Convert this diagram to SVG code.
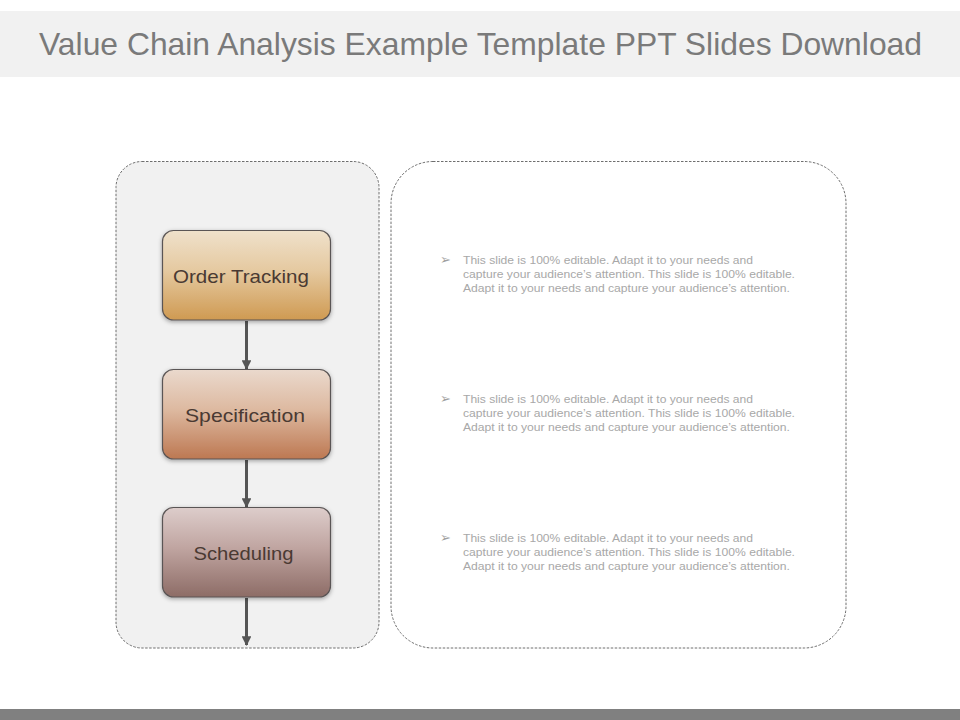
<svg xmlns="http://www.w3.org/2000/svg" width="960" height="720" viewBox="0 0 960 720">
<style>
.title{font-family:"Liberation Sans",Arial,sans-serif;font-size:32px;fill:#7a7a7a}
.node{stroke:#5a5555;stroke-width:1.2}
.lbl{font-family:"Liberation Sans",Arial,sans-serif;font-size:19px;fill:#4a3a33;text-anchor:start}
.body{font-family:"Liberation Sans",Arial,sans-serif;font-size:11.5px;fill:#a8a8a8}
.bullet{font-family:"DejaVu Sans",sans-serif;font-size:13px;fill:#a0a0a0}
.panel{stroke:#6e6e6e;stroke-width:1;stroke-dasharray:2.5 1.5}
.conn{stroke:#555;stroke-width:3;fill:none}
</style>
<defs>
<linearGradient id="g1" x1="0" y1="0" x2="0" y2="1">
<stop offset="0" stop-color="#efe1cb"/><stop offset="0.45" stop-color="#e5c9a0"/><stop offset="1" stop-color="#cf9a52"/>
</linearGradient>
<linearGradient id="g2" x1="0" y1="0" x2="0" y2="1">
<stop offset="0" stop-color="#ead9cd"/><stop offset="0.45" stop-color="#ddb9a0"/><stop offset="1" stop-color="#bd7852"/>
</linearGradient>
<linearGradient id="g3" x1="0" y1="0" x2="0" y2="1">
<stop offset="0" stop-color="#ddcdcb"/><stop offset="0.45" stop-color="#c0a5a1"/><stop offset="1" stop-color="#8d6c66"/>
</linearGradient>
<filter id="sh" x="-10%" y="-10%" width="120%" height="130%">
<feDropShadow dx="0" dy="1.5" stdDeviation="2" flood-color="#000" flood-opacity="0.35"/>
</filter>
<marker id="ah" viewBox="0 0 10 10" refX="9" refY="5" markerWidth="3.2" markerHeight="3.2" orient="auto" markerUnits="strokeWidth">
<path d="M0,0 L10,5 L0,10 z" fill="#555"/>
</marker>
</defs>
<rect x="0" y="0" width="960" height="720" fill="#ffffff"/>
<g id="header">
<rect x="0" y="11" width="960" height="66" fill="#f1f1f1"/>
<text class="title" x="39" y="55" textLength="883" lengthAdjust="spacingAndGlyphs">Value Chain Analysis Example Template PPT Slides Download</text>
</g>
<rect x="0" y="709" width="960" height="11" fill="#808080"/>
<g id="left-panel">
<rect class="panel" x="116" y="161.5" width="263" height="486.5" rx="26" ry="26" fill="#f1f1f1"/>
</g>
<g id="right-panel">
<rect class="panel" x="391" y="161.5" width="455" height="486.5" rx="42" ry="42" fill="#ffffff"/>
</g>
<g id="connectors">
<line class="conn" x1="246.5" y1="321" x2="246.5" y2="369" marker-end="url(#ah)"/>
<line class="conn" x1="246.5" y1="460" x2="246.5" y2="507" marker-end="url(#ah)"/>
<line class="conn" x1="246.5" y1="598" x2="246.5" y2="645" marker-end="url(#ah)"/>
</g>
<g id="node-order-tracking">
<rect class="node" x="162.5" y="230.5" width="168" height="89.5" rx="11" ry="11" fill="url(#g1)" filter="url(#sh)"/>
<text class="lbl" x="173" y="282.5" textLength="136" lengthAdjust="spacingAndGlyphs">Order Tracking</text>
</g>
<g id="node-specification">
<rect class="node" x="162.5" y="369.5" width="168" height="89.5" rx="11" ry="11" fill="url(#g2)" filter="url(#sh)"/>
<text class="lbl" x="185" y="421.5" textLength="120" lengthAdjust="spacingAndGlyphs">Specification</text>
</g>
<g id="node-scheduling">
<rect class="node" x="162.5" y="507.5" width="168" height="89.5" rx="11" ry="11" fill="url(#g3)" filter="url(#sh)"/>
<text class="lbl" x="193.5" y="559.5" textLength="100" lengthAdjust="spacingAndGlyphs">Scheduling</text>
</g>
<g id="text-block-1">
<text class="bullet" x="440" y="264">➢</text>
<text class="body" x="463" y="264" textLength="290" lengthAdjust="spacingAndGlyphs">This slide is 100% editable. Adapt it to your needs and</text>
<text class="body" x="463" y="278" textLength="332" lengthAdjust="spacingAndGlyphs">capture your audience’s attention. This slide is 100% editable.</text>
<text class="body" x="463" y="292" textLength="327" lengthAdjust="spacingAndGlyphs">Adapt it to your needs and capture your audience’s attention.</text>
</g>
<g id="text-block-2">
<text class="bullet" x="440" y="403">➢</text>
<text class="body" x="463" y="403" textLength="290" lengthAdjust="spacingAndGlyphs">This slide is 100% editable. Adapt it to your needs and</text>
<text class="body" x="463" y="417" textLength="332" lengthAdjust="spacingAndGlyphs">capture your audience’s attention. This slide is 100% editable.</text>
<text class="body" x="463" y="431" textLength="327" lengthAdjust="spacingAndGlyphs">Adapt it to your needs and capture your audience’s attention.</text>
</g>
<g id="text-block-3">
<text class="bullet" x="440" y="542">➢</text>
<text class="body" x="463" y="542" textLength="290" lengthAdjust="spacingAndGlyphs">This slide is 100% editable. Adapt it to your needs and</text>
<text class="body" x="463" y="556" textLength="332" lengthAdjust="spacingAndGlyphs">capture your audience’s attention. This slide is 100% editable.</text>
<text class="body" x="463" y="570" textLength="327" lengthAdjust="spacingAndGlyphs">Adapt it to your needs and capture your audience’s attention.</text>
</g>
</svg>
